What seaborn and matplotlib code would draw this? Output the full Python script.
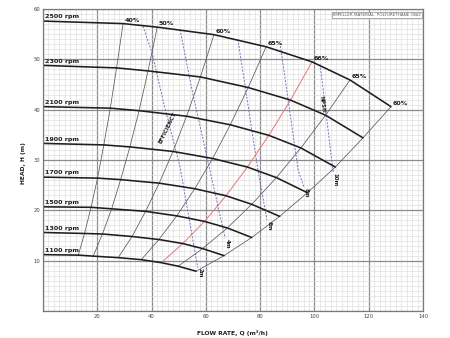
import matplotlib
matplotlib.use("Agg")
import matplotlib.pyplot as plt
import numpy as np
import pandas as pd
import seaborn as sns
from matplotlib.ticker import MultipleLocator, FuncFormatter

# ---- pump speed curves: shut-off point, then the points where each
# ---- efficiency line crosses the curve (40, 50, 60, 65, 66, 65, 60 %)
speed_labels = ["2500 rpm", "2300 rpm", "2100 rpm", "1900 rpm",
                "1700 rpm", "1500 rpm", "1300 rpm", "1100 rpm"]

flow_2500 = [0, 29.5, 42.1, 63.0, 82.2, 99.1, 113.1, 128.2]
head_2500 = [57.6, 57.1, 56.4, 54.9, 52.5, 49.5, 45.9, 40.6]
flow_2300 = [0, 27.1, 38.7, 58.0, 75.6, 91.2, 104.1, 117.9]
head_2300 = [48.8, 48.3, 47.7, 46.5, 44.4, 41.9, 38.9, 34.4]
flow_2100 = [0, 24.8, 35.4, 52.9, 69.0, 83.2, 95.0, 107.7]
head_2100 = [40.6, 40.3, 39.8, 38.7, 37.0, 34.9, 32.4, 28.6]
flow_1900 = [0, 22.4, 32.0, 47.9, 62.5, 75.3, 86.0, 97.4]
head_1900 = [33.3, 33.0, 32.6, 31.7, 30.3, 28.6, 26.5, 23.5]
flow_1700 = [0, 20.1, 28.6, 42.8, 55.9, 67.4, 76.9, 87.2]
head_1700 = [26.6, 26.4, 26.1, 25.4, 24.3, 22.9, 21.2, 18.8]
flow_1500 = [0, 17.7, 25.3, 37.8, 49.3, 59.5, 67.9, 76.9]
head_1500 = [20.7, 20.6, 20.3, 19.8, 18.9, 17.8, 16.5, 14.6]
flow_1300 = [0, 15.3, 21.9, 32.8, 42.7, 51.5, 58.8, 66.7]
head_1300 = [15.6, 15.4, 15.3, 14.8, 14.2, 13.4, 12.4, 11.0]
flow_1100 = [0, 13.0, 18.5, 27.7, 36.2, 43.6, 49.8, 56.4]
head_1100 = [11.2, 11.1, 10.9, 10.6, 10.2, 9.6, 8.9, 7.9]

efficiency_labels = ["40%", "50%", "60%", "65%", "66%", "65%", "60%"]
best_efficiency = "66%"

# ---- NPSH required lines
npsh_labels = ["2m", "4m", "6m", "8m", "10m"]
npsh_2m_flow = [36.8, 40.2, 44.2, 50.5, 57.0]
npsh_2m_head = [56.6, 51.3, 41.9, 28.6, 8.6]
npsh_4m_flow = [50.5, 54.9, 62.3, 67.1]
npsh_4m_head = [55.9, 43.9, 26.0, 14.5]
npsh_6m_flow = [71.8, 79.2, 82.5]
npsh_6m_head = [54.0, 28.0, 18.1]
npsh_8m_flow = [87.3, 94.0, 96.2]
npsh_8m_head = [53.3, 28.0, 24.5]
npsh_10m_flow = [102.1, 106.9]
npsh_10m_head = [49.0, 27.6]

flow_ticks = [20, 40, 60, 80, 100, 120, 140]
head_ticks = [10, 20, 30, 40, 50, 60]

# ---- tidy tables
speed_flows = [flow_2500, flow_2300, flow_2100, flow_1900,
               flow_1700, flow_1500, flow_1300, flow_1100]
speed_heads = [head_2500, head_2300, head_2100, head_1900,
               head_1700, head_1500, head_1300, head_1100]
rows = []
for lab, qs, hs in zip(speed_labels, speed_flows, speed_heads):
    for i, (q, h) in enumerate(zip(qs, hs)):
        rows.append({"speed": lab, "point": i, "flow": q, "head": h})
curves = pd.DataFrame(rows)

iso = curves[curves["point"] > 0].copy()
iso["eff"] = iso["point"].map(lambda p: efficiency_labels[p - 1])
iso = iso.sort_values(["point", "flow"])

npsh_flows = [npsh_2m_flow, npsh_4m_flow, npsh_6m_flow, npsh_8m_flow, npsh_10m_flow]
npsh_heads = [npsh_2m_head, npsh_4m_head, npsh_6m_head, npsh_8m_head, npsh_10m_head]
npsh = pd.DataFrame([{"npsh": lab, "flow": q, "head": h}
                     for lab, qs, hs in zip(npsh_labels, npsh_flows, npsh_heads)
                     for q, h in zip(qs, hs)])

# ---- figure
sns.set_theme(style="white")
plt.rcParams["font.family"] = ["DejaVu Sans"]

fig = plt.figure(figsize=(4.5, 3.38), dpi=100)
ax = fig.add_axes([43 / 450, 27 / 338, 380 / 450, 302 / 338])

ax.set_xlim(0, 140)
ax.set_ylim(0, 60)
ax.xaxis.set_major_locator(MultipleLocator(20))
ax.xaxis.set_minor_locator(MultipleLocator(2))
ax.yaxis.set_major_locator(MultipleLocator(10))
ax.yaxis.set_minor_locator(MultipleLocator(1))
ax.grid(which="minor", color="#dcdcdc", lw=0.45)
ax.grid(which="major", color="#8c8c8c", lw=0.9)
ax.set_axisbelow(True)

hide_zero = FuncFormatter(lambda v, _: "" if v == 0 else f"{v:g}")
ax.xaxis.set_major_formatter(hide_zero)
ax.yaxis.set_major_formatter(hide_zero)
ax.tick_params(which="both", length=0, labelsize=3.8, colors="#444444", pad=2)
for s in ax.spines.values():
    s.set_color("#7a7a7a")
    s.set_linewidth(0.9)

# efficiency lines (thin grey), best efficiency in red
plain_iso = iso[iso["eff"] != best_efficiency]
sns.lineplot(data=plain_iso, x="flow", y="head", units="point", estimator=None,
             sort=False, color="#5a5a5a", lw=0.55, ax=ax)
sns.lineplot(data=iso[iso["eff"] == best_efficiency], x="flow", y="head",
             estimator=None, sort=False, color="#e8757a", lw=0.7, ax=ax)

# NPSH lines (dashed blue)
sns.lineplot(data=npsh, x="flow", y="head", units="npsh", estimator=None,
             sort=False, color="#6b6bb8", lw=0.65, dashes=False, ax=ax,
             linestyle=(0, (2.2, 1.6)))

# speed curves
sns.lineplot(data=curves, x="flow", y="head", units="speed", estimator=None,
             sort=False, color="#1e1e1e", lw=1.15, ax=ax)

ax.set_xlabel("")
ax.set_ylabel("")

bold = dict(fontweight="bold", color="#1e1e1e")
for lab, hs in zip(speed_labels, speed_heads):
    ax.text(0.9, hs[0] + 0.35, lab, fontsize=4.6, ha="left", va="bottom", **bold)

for lab, q, h in zip(efficiency_labels, flow_2500[1:], head_2500[1:]):
    ax.annotate(lab, (q, h), xytext=(1.2, 0.6), textcoords="offset points",
                fontsize=4.6, ha="left", va="bottom", **bold)

for lab, qs, hs in zip(npsh_labels, npsh_flows, npsh_heads):
    ax.annotate(lab, (qs[-1], hs[-1]), xytext=(1.5, -0.5), textcoords="offset points",
                fontsize=4.0, ha="center", va="top", rotation=-90, **bold)

ax.text(46.0, 36.4, "EFFICIENCY", fontsize=3.9, rotation=64,
        ha="center", va="center", **bold)
ax.text(102.8, 41.0, "NPSH", fontsize=3.9, rotation=-83,
        ha="center", va="center", **bold)

ax.text(0.995, 0.988, "IMPELLER MATERIAL: POLYURETHANE ONLY", transform=ax.transAxes,
        fontsize=3.0, ha="right", va="top", color="#555555",
        bbox=dict(boxstyle="square,pad=0.25", fc="white", ec="#888888", lw=0.5))

fig.text(232 / 450, 1 - 333 / 338, "FLOW RATE, Q (m\u00b3/h)", fontsize=4.3,
         ha="center", va="center", **bold)
fig.text(23 / 450, 1 - 163 / 338, "HEAD, H (m)", fontsize=4.3, rotation=90,
         ha="center", va="center", **bold)

fig.savefig("out.png", dpi=100, facecolor="white")
